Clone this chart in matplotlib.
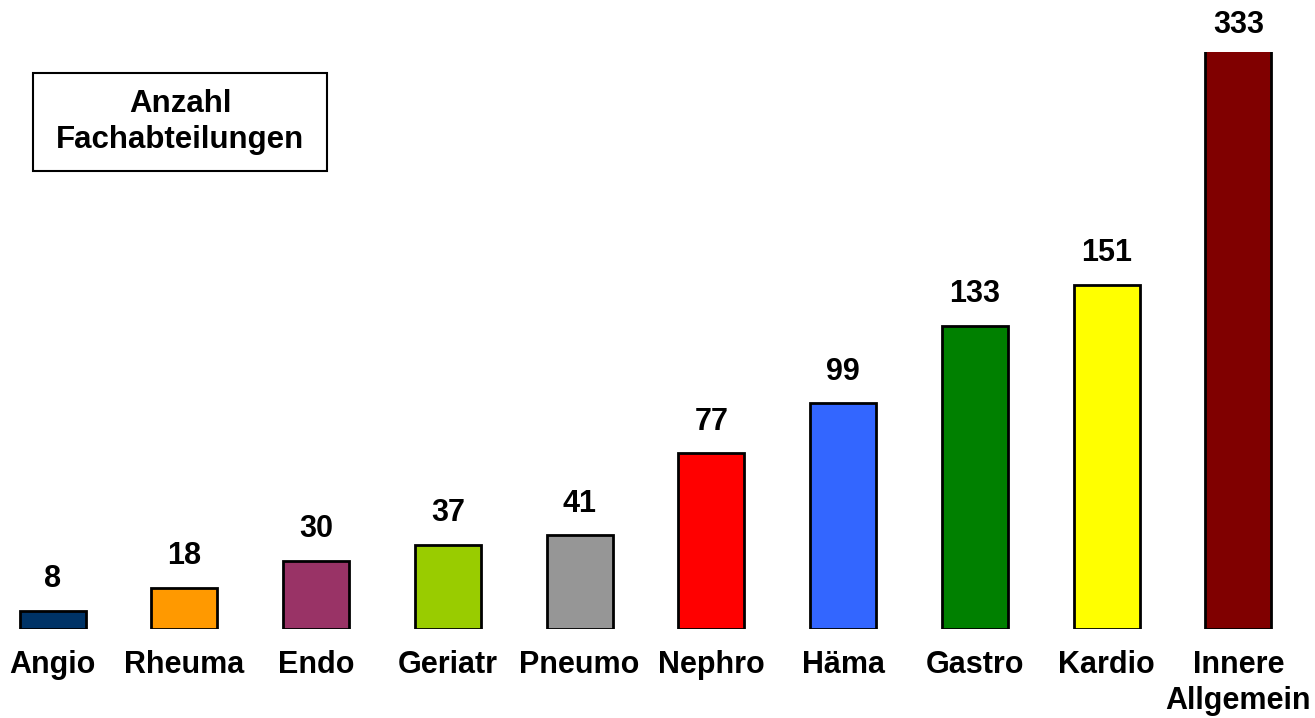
import matplotlib
matplotlib.use("Agg")
import matplotlib.pyplot as plt

categories = ["Angio", "Rheuma", "Endo", "Geriatr", "Pneumo", "Nephro", "Häma",
              "Gastro", "Kardio", "Innere\nAllgemein"]
values = [8, 18, 30, 37, 41, 77, 99, 133, 151, 333]
colors = ["#003366", "#FF9900", "#993366", "#99CC00", "#969696", "#FF0000",
          "#3366FF", "#008000", "#FFFF00", "#800000"]
box_title = "Anzahl\nFachabteilungen"
y_max = 253

plt.rcParams['font.family'] = ['Liberation Sans', 'DejaVu Sans']

fig = plt.figure(figsize=(13.15, 7.18), dpi=100)
W, H = 1315, 718
ax = fig.add_axes([0 / W, (H - 629) / H, 1291 / W, (629 - 52) / H])

x = list(range(len(categories)))
ax.bar(x, values, width=0.5, color=colors, edgecolor="black", linewidth=2)
ax.set_xlim(-0.4, len(categories) - 0.6)
ax.set_ylim(0, y_max)

for xi, v in zip(x, values):
    off = 12 if v <= y_max else 9
    ax.annotate(str(v), xy=(xi, min(v, y_max)), xytext=(0, off),
                textcoords="offset points", ha="center", va="bottom",
                fontsize=22, fontweight="bold", annotation_clip=False)

ax.set_xticks(x)
ax.set_xticklabels(categories, fontsize=22, fontweight="bold", linespacing=1.25)
ax.tick_params(axis="x", length=0, pad=15)
ax.set_yticks([])
for s in ax.spines.values():
    s.set_visible(False)

fig.text(180 / W, 1 - 122 / H, box_title, ha="center", va="center",
         fontsize=22.5, fontweight="bold", linespacing=1.3)
fig.patches.append(plt.Rectangle((33 / W, 1 - 171 / H), 294 / W, 98 / H,
                                 transform=fig.transFigure, fill=False,
                                 edgecolor="black", linewidth=1.5))

fig.savefig("out.png", dpi=100)
